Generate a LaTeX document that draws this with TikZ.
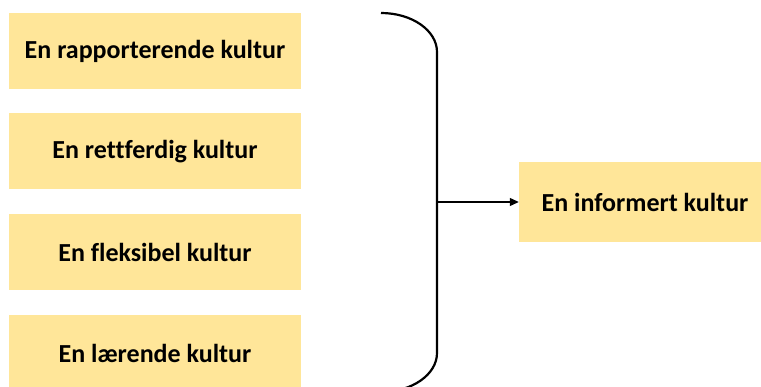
\documentclass[tikz,border=0pt]{standalone}
\usepackage{fontspec}
\setmainfont[Ligatures=NoCommon]{Carlito}
\usetikzlibrary{arrows.meta}
\definecolor{boxfill}{HTML}{FFE699}
\begin{document}
\begin{tikzpicture}[x=1pt,y=-1pt,
  culture/.style={fill=boxfill, draw=none, minimum width=292pt, minimum height=76pt,
    font=\fontsize{26}{30}\selectfont\bfseries, inner sep=0pt},
  target/.style={culture, minimum width=252pt, minimum height=80pt}]
\useasboundingbox (0,0) rectangle (761,387);
\clip (0,0) rectangle (761,387);
\node[culture] (c1) at (155,51) {En rapporterende kultur};
\node[culture] (c2) at (155,151.5) {En rettferdig kultur};
\node[culture] (c3) at (155,252.5) {En fleksibel kultur};
\node[culture] (c4) at (155,353) {En lærende kultur};
\node[target] (inf) at (645,202) {En informert kultur};
% brace grouping the four cultures
\coordinate (btop) at (381,13);
\coordinate (bmid) at (437,202);
\draw[line width=2.2pt] (btop) .. controls (412,13) and (437,30.5) .. (437,52)
  -- (437,353) .. controls (437,374.5) and (412,392) .. (381,392);
\draw[line width=1.2pt, -{Triangle[length=9pt,width=8pt]}] (bmid) -- (inf.west);
\end{tikzpicture}
\end{document}
